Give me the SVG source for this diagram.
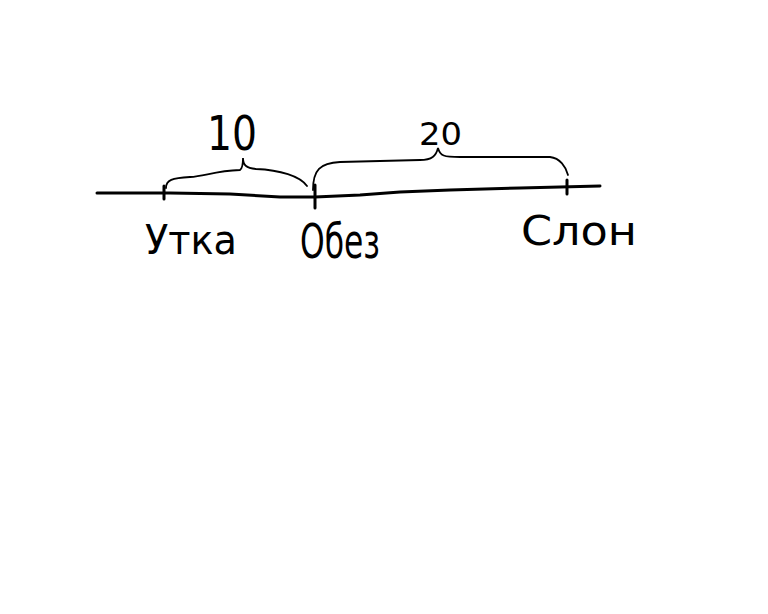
<svg xmlns="http://www.w3.org/2000/svg" width="768" height="614" viewBox="0 0 768 614">
<style>
.ln{fill:none;stroke:#000;stroke-width:3;stroke-linecap:round;stroke-linejoin:round}
.br{fill:none;stroke:#000;stroke-width:1.8;stroke-linecap:round}
.t{font-family:"DejaVu Sans",sans-serif;fill:#000}
</style>
<rect width="768" height="614" fill="#fff"/>
<g id="connectors">
<path class="ln" d="M97,193 L170,193 L230,194 L280,197 L315,197 L360,195 L400,192 L450,190 L520,188 L600,186"/>
<path class="br" d="M166,188 C166,180 172,178 190,177 C205,176 215,171 240,170 C243,168 243,162 243,158 C243,165 246,168 256,169 C280,170 300,176 307,186"/>
<path class="br" d="M313,190 C313,170 320,163 340,162 L420,160 C432,160 436,156 438,148 C440,156 444,157 460,157 L550,157 C560,158 566,167 568,175"/>
</g>
<g id="node-utka">
<path class="ln" d="M164,186 L164,199"/>
<text class="t" x="145" y="254" font-size="40" textLength="92" lengthAdjust="spacingAndGlyphs">Утка</text>
</g>
<g id="node-obez">
<path class="ln" d="M315,185 L315,208"/>
<text class="t" x="300" y="258" font-size="48" textLength="80" lengthAdjust="spacingAndGlyphs">Обез</text>
</g>
<g id="node-slon">
<path class="ln" d="M567,180 L567,194"/>
<text class="t" x="521" y="245" font-size="40" textLength="116" lengthAdjust="spacingAndGlyphs">Слон</text>
</g>
<g id="label-10">
<text class="t" x="207" y="150" font-size="48" textLength="50" lengthAdjust="spacingAndGlyphs">10</text>
</g>
<g id="label-20">
<text class="t" x="419" y="145" font-size="32" textLength="43" lengthAdjust="spacingAndGlyphs">20</text>
</g>
</svg>
